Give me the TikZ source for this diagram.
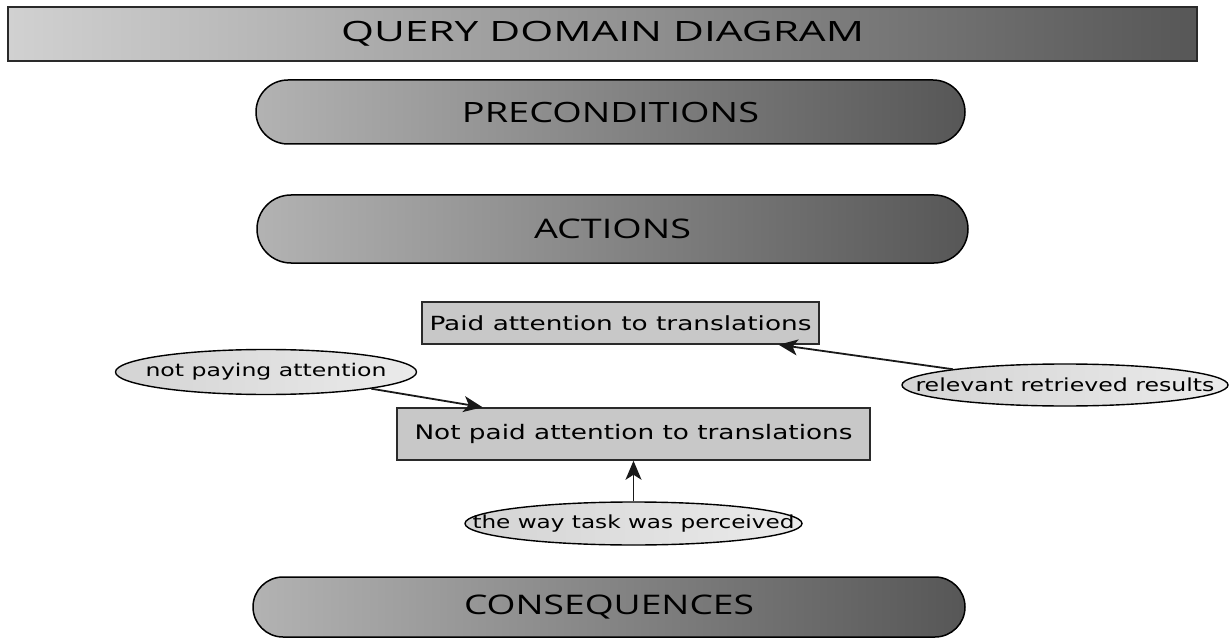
\documentclass[tikz,border=0pt]{standalone}
\usepackage{fontspec}
\usepackage{graphicx}
\usetikzlibrary{shapes.misc,shapes.geometric,arrows.meta,calc}
\newfontfamily\headfont{Open Sans}
\newfontfamily\bodyfont{DejaVu Sans}
\newcommand\fittext[3]{\makebox[0pt]{\resizebox{#1pt}{\height}{\fontsize{#2}{#2}\selectfont #3}}}
\definecolor{edgegray}{HTML}{2A2A2A}
\definecolor{boxfill}{HTML}{C8C8C8}
\tikzset{
  titlebar/.style={draw=edgegray, line width=1.8pt, rectangle, inner sep=0pt,
    left color=black!18, right color=black!66, font=\headfont},
  pill/.style={draw=black, line width=1.5pt, rounded rectangle, inner sep=0pt,
    left color=black!30, right color=black!66, font=\headfont},
  stepbox/.style={draw=edgegray, line width=1.5pt, rectangle, inner sep=0pt,
    fill=boxfill, font=\bodyfont},
  factor/.style={draw=black, line width=1.4pt, ellipse, inner sep=0pt,
    left color=black!17, right color=black!8, font=\bodyfont},
  arr/.style={draw=black!90, line width=1.8pt, -{Stealth[length=19pt,width=16pt,inset=5pt]}}
}
\begin{document}
\begin{tikzpicture}[x=1pt,y=-1pt]
\useasboundingbox (0,0) rectangle (1229,639);
\node[titlebar, minimum width=1189pt, minimum height=54pt] (title) at (602.5,34)
  {\fittext{523}{28}{QUERY DOMAIN DIAGRAM}};
\node[pill, minimum width=709pt, minimum height=64pt] (pre) at (610.5,112)
  {\fittext{297}{28}{PRECONDITIONS}};
\node[pill, minimum width=711pt, minimum height=68pt] (act) at (612.5,229)
  {\fittext{157}{27}{ACTIONS}};
\node[pill, minimum width=712pt, minimum height=60pt] (con) at (609,607)
  {\fittext{290}{27}{CONSEQUENCES}};
\node[stepbox, minimum width=397pt, minimum height=42pt] (paid) at (620.5,323)
  {\fittext{382}{19.5}{Paid attention to translations}};
\node[stepbox, minimum width=473pt, minimum height=52pt] (notpaid) at (633.5,434)
  {\fittext{438}{20}{Not paid attention to translations}};
\node[factor, minimum width=301pt, minimum height=45pt] (np) at (266,372)
  {\fittext{241}{17.5}{not paying attention}};
\node[factor, minimum width=326pt, minimum height=42pt] (rel) at (1065,385)
  {\fittext{299}{18}{relevant retrieved results}};
\node[factor, minimum width=337pt, minimum height=43pt] (way) at (633.5,523.5)
  {\fittext{322}{18}{the way task was perceived}};
\draw[arr] (rel.172) -- ($(paid.south west)!0.897!(paid.south east)$);
\draw[arr] (np.351) -- ($(notpaid.north west)!0.182!(notpaid.north east)$);
\draw[arr] (way.north) -- (notpaid.south);
\end{tikzpicture}
\end{document}
